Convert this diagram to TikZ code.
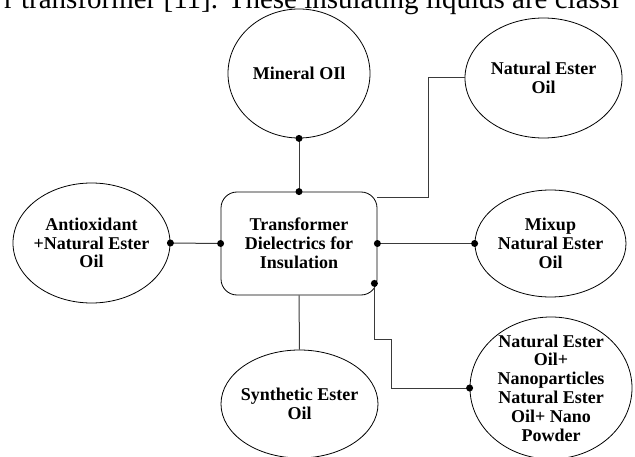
\documentclass[tikz,border=0pt]{standalone}
\usepackage{fontspec}
\setmainfont{Liberation Serif}
\usetikzlibrary{positioning, calc, shapes.geometric}
\definecolor{linkgray}{HTML}{3A3A3A}
\tikzset{
  oil/.style={
    ellipse, draw=black, line width=0.8pt, align=center,
    inner xsep=-8pt, inner ysep=-14pt,
    font=\fontsize{18}{18.8}\selectfont\bfseries
  },
  hub/.style={
    draw=black, line width=0.8pt, rounded corners=16pt, align=center,
    minimum width=156pt, minimum height=103pt, inner sep=2pt,
    font=\fontsize{18}{18.8}\selectfont\bfseries
  },
  link/.style={draw=linkgray, line width=1pt},
  pagetext/.style={font=\fontsize{29}{30}\selectfont, inner sep=0pt}
}

\begin{document}
\begin{tikzpicture}[x=1pt, y=-1pt]
  \clip (0,0) rectangle (635,457);
  % running text of the page, cut at the top
  \node[pagetext, anchor=base west] (pageline) at (4,9)
    {r transformer [11]. These insulating liquids are classi};

  % centre box
  \node[hub] (hub) at (299,243.5) {Transformer\\Dielectrics for\\Insulation};

  % the oils
  \node[oil, minimum width=142pt, minimum height=129pt] (mineral) at (299,73.5) {Mineral OIl};
  \node[oil, minimum width=157pt, minimum height=120pt] (natural) at (543.5,78) {Natural Ester\\Oil};
  \node[oil, minimum width=157pt, minimum height=120pt] (antiox) at (91.5,243) {Antioxidant\\+Natural Ester\\Oil};
  \node[oil, minimum width=151pt, minimum height=107pt] (mixup) at (550.5,243.5) {Mixup\\Natural Ester\\Oil};
  \node[oil, minimum width=157pt, minimum height=108pt] (synthetic) at (299.5,404) {Synthetic Ester\\Oil};
  \node[oil, minimum width=162pt, minimum height=142pt] (nano) at (551,388)
    {Natural Ester\\Oil+\\Nanoparticles\\Natural Ester\\Oil+ Nano\\Powder};

  % connectors
  \coordinate (hubtop) at ($(hub.north east)+(0,6)$);
  \coordinate (hubfoot) at ($(hub.south east)+(-3,-12)$);
  \draw[link] (mineral.south) -- (hub.north);
  \draw[link] (hubtop) -| ($(natural.west)+(-36,0)$) -- (natural.west);
  \draw[link] (antiox.east) -- (hub.west);
  \draw[link] (hub.east) -- (mixup.west);
  \draw[link] (hub.south) -- (synthetic.north);
  \draw[link] (hubfoot) -- ++(0,56) -- ++(17,0) |- (nano.west);

  \foreach \p in {mineral.south, hub.north, antiox.east, hub.west,
                  hub.east, mixup.west, hubfoot, nano.west}
    \fill (\p) circle[radius=3.5pt];
\end{tikzpicture}
\end{document}
